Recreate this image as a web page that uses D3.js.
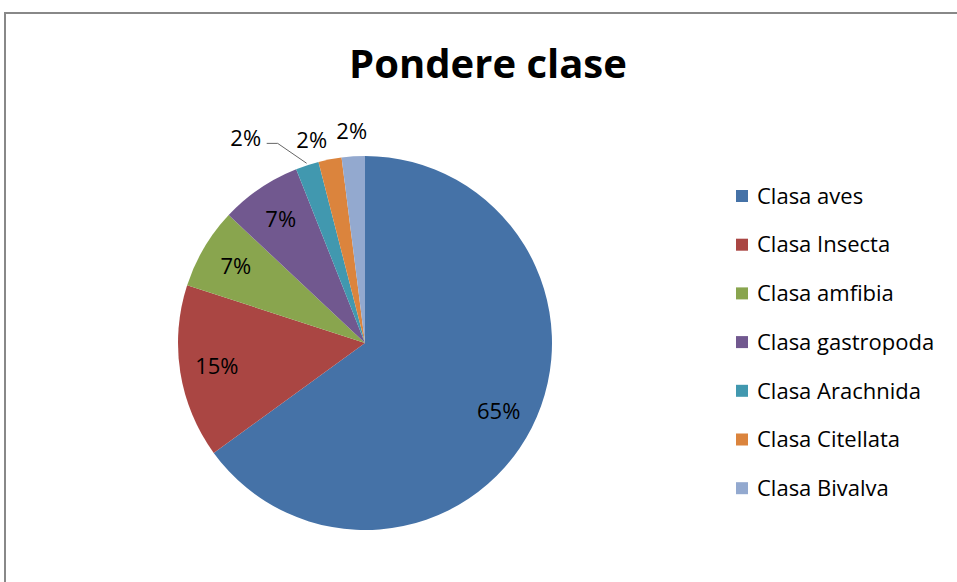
<!DOCTYPE html>
<html>
<head>
<meta charset="utf-8">
<script src="https://cdn.jsdelivr.net/npm/d3@7"></script>
<style>
  html, body { margin: 0; padding: 0; background: #fff; }
  svg { display: block; font-family: "Open Sans", Lato, sans-serif; }
</style>
</head>
<body>
<svg id="chart" width="957" height="582"></svg>
<script>
var categories = ["Clasa aves", "Clasa Insecta", "Clasa amfibia", "Clasa gastropoda",
    "Clasa Arachnida", "Clasa Citellata", "Clasa Bivalva"]
var shares = [65, 15, 7, 7, 2, 2, 2]
var colors = ["#4572A7", "#AA4643", "#89A54E", "#71588F", "#4198AF", "#DB843D", "#93A9CF"]
var title = "Pondere clase"

var svg = d3.select("#chart")
var cx = 365, cy = 343, radius = 187

// chart area border (runs off the right and bottom edge)
svg.append("rect")
    .attr("x", 5).attr("y", 13)
    .attr("width", 1200).attr("height", 1200)
    .attr("fill", "none")
    .attr("stroke", "#888")
    .attr("stroke-width", 2)

svg.append("text")
    .attr("x", 488).attr("y", 78)
    .attr("text-anchor", "middle")
    .style("font-size", "40px")
    .style("font-weight", "bold")
    .text(title)

var data = categories.map(function(c, i) {
    return {name: c, value: shares[i], color: colors[i]}
})
var pie = d3.pie().sort(null).value(function(d) { return d.value })
var arcs = pie(data)
var arc = d3.arc().innerRadius(0).outerRadius(radius)
var inner = d3.arc().innerRadius(150).outerRadius(150)
var outer = d3.arc().innerRadius(radius + 25).outerRadius(radius + 25)

var g = svg.append("g").attr("transform", "translate(" + cx + "," + cy + ")")
g.selectAll("path.slice")
    .data(arcs)
    .enter()
    .append("path")
    .attr("class", "slice")
    .attr("d", arc)
    .attr("fill", function(d) { return d.data.color })

var total = d3.sum(shares)
var fmt = function(d) { return Math.round(100 * d.data.value / total) + "%" }

// big slices: label inside
var big = arcs.filter(function(d) { return d.data.value / total >= 0.05 })
g.selectAll("text.inlab")
    .data(big)
    .enter()
    .append("text")
    .attr("class", "inlab")
    .attr("transform", function(d) { return "translate(" + inner.centroid(d) + ")" })
    .attr("text-anchor", "middle")
    .attr("dy", "0.35em")
    .style("font-size", "22px")
    .text(fmt)

// small slices: label outside, pushed left when crowded
var small = arcs.filter(function(d) { return d.data.value / total < 0.05 }).reverse()
var prevX = null
small.forEach(function(d) {
    var p = outer.centroid(d)
    d.lx = p[0]; d.ly = p[1]
    d.moved = false
    if (prevX !== null && d.lx > prevX - 40) {
        d.lx = prevX - 40
        d.ly = p[1] + 6
    }
    if (p[0] - d.lx > 20) {
        d.moved = true
        d.lx -= 26
        d.ly = p[1] - 3
    }
    prevX = d.lx
})

g.selectAll("polyline.leader")
    .data(small.filter(function(d) { return d.moved }))
    .enter()
    .append("polyline")
    .attr("class", "leader")
    .attr("fill", "none")
    .attr("stroke", "#666")
    .attr("stroke-width", 1)
    .attr("points", function(d) {
        var a = (d.startAngle + d.endAngle) / 2
        var ex = Math.sin(a) * (radius + 2), ey = -Math.cos(a) * (radius + 2)
        return [[d.lx + 21, d.ly + 5], [d.lx + 32, d.ly + 5], [ex, ey]].join(" ")
    })

g.selectAll("text.outlab")
    .data(small)
    .enter()
    .append("text")
    .attr("class", "outlab")
    .attr("x", function(d) { return d.lx })
    .attr("y", function(d) { return d.ly })
    .attr("text-anchor", "middle")
    .attr("dy", "0.35em")
    .style("font-size", "22px")
    .text(fmt)

// legend
var legend = svg.append("g").attr("transform", "translate(736,196)")
var item = legend.selectAll("g")
    .data(data)
    .enter()
    .append("g")
    .attr("transform", function(d, i) { return "translate(0," + (i * 48.7) + ")" })
item.append("rect")
    .attr("x", 0).attr("y", -6)
    .attr("width", 12).attr("height", 12)
    .attr("fill", function(d) { return d.color })
item.append("text")
    .attr("x", 21)
    .attr("dy", "0.35em")
    .style("font-size", "22px")
    .text(function(d) { return d.name })
</script>
</body>
</html>
